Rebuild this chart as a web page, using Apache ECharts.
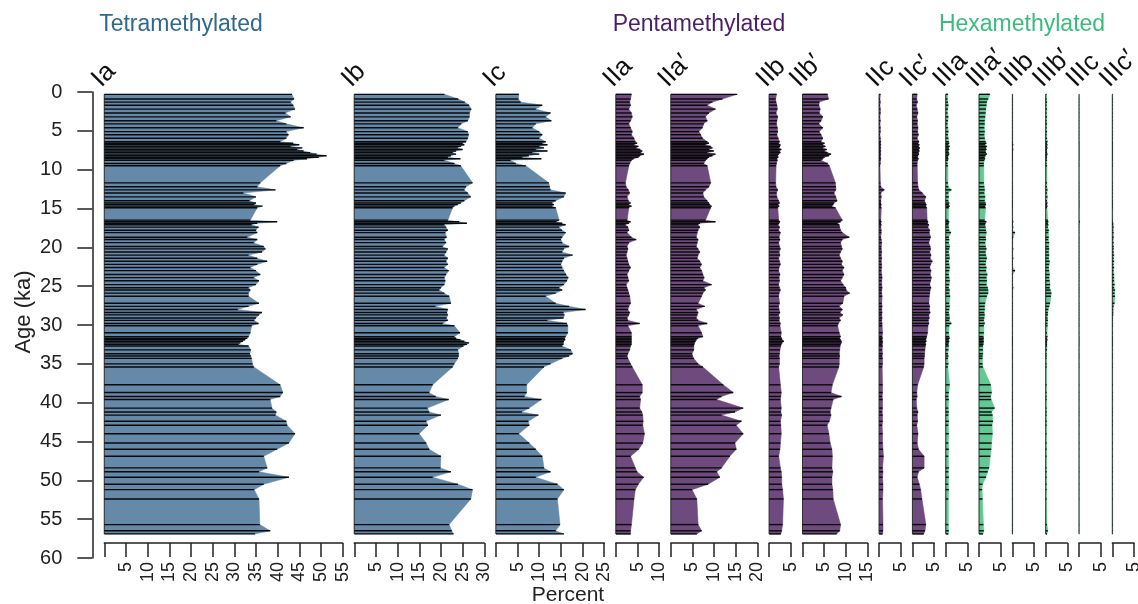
<!DOCTYPE html>
<html><head><meta charset="utf-8">
<script src="https://cdn.jsdelivr.net/npm/echarts@6/dist/echarts.min.js"></script>
<style>html,body{margin:0;padding:0;background:#fff}#c{width:1138px;height:604px}</style>
</head><body><div id="c"></div>
<script>
// ---- data (ages in ka, values in percent) ----
const ages = [
0.3,0.9,1.3,1.7,2.2,2.7,3.2,3.7,4.1,4.6,
5.1,5.5,5.95,6.4,6.6,6.8,7.0,7.2,7.4,7.6,
7.8,8.0,8.2,8.4,8.6,8.8,9.2,9.5,11.7,12.2,
12.6,13.0,13.5,14.0,14.3,14.5,14.7,14.9,16.5,16.7,
16.9,17.1,17.4,17.8,18.1,18.7,19.0,19.4,19.9,20.2,
20.6,21.0,21.4,21.8,22.2,22.6,23.0,23.5,23.9,24.3,
24.8,25.2,25.5,25.9,26.3,27.2,27.6,28.0,28.4,28.7,
29.1,29.4,29.8,30.1,31.0,31.5,31.7,31.9,32.1,32.3,
32.5,32.7,33.2,33.7,34.0,34.3,35.0,35.4,37.7,38.7,
39.2,39.6,40.7,41.2,41.6,42.4,42.9,44.0,45.2,46.0,
46.9,48.4,48.9,49.6,50.5,51.2,52.4,55.7,56.5,56.9];

const Ia = [
43.3,43.8,43.0,43.6,44.0,41.8,43.0,39.7,42.0,46.0,
42.0,42.5,42.0,40.6,43.6,45.0,43.0,45.7,44.5,46.0,
47.5,49.0,51.3,49.5,46.8,43.7,42.0,40.6,36.0,35.3,
39.5,32.1,35.0,33.5,35.0,34.6,36.5,35.3,33.7,39.9,
35.3,34.0,35.6,35.0,35.3,33.0,35.3,34.5,36.8,37.2,
36.4,33.3,35.3,37.6,35.3,33.7,35.0,36.0,34.5,35.7,
35.0,33.3,33.7,33.3,33.3,35.7,33.3,30.8,36.4,35.7,
35.0,34.6,35.6,34.0,33.7,33.3,33.0,32.5,32.0,31.4,
31.0,33.3,33.8,33.6,33.8,34.0,34.2,34.5,40.6,41.2,
40.6,38.3,38.7,39.7,39.5,42.0,42.2,44.0,42.6,39.9,
36.8,37.6,35.7,42.6,36.8,34.6,35.7,35.9,38.3,34.8];

const Ib = [
20.8,24.0,25.5,26.5,27.0,26.6,26.6,26.2,24.7,23.9,
26.2,26.4,26.2,25.8,25.0,25.4,24.6,23.9,25.0,23.5,
22.7,23.5,22.3,21.6,24.5,20.8,23.1,24.6,27.3,25.8,
25.4,26.2,26.9,25.4,24.6,23.9,23.1,22.7,21.6,24.2,
26.0,20.8,21.2,21.6,21.0,21.3,20.8,21.2,20.4,21.6,
21.2,20.8,21.6,21.2,21.6,20.8,21.8,21.2,20.8,21.0,
20.8,20.0,19.6,20.8,21.9,22.3,18.7,21.6,21.4,21.6,
21.3,21.6,20.4,23.1,24.4,23.1,23.5,24.5,25.4,26.5,
26.0,25.2,23.9,24.1,24.1,23.9,23.1,22.7,18.1,17.3,
18.8,21.8,16.9,17.3,20.0,16.6,17.0,15.0,16.6,17.3,
20.0,19.9,22.3,18.1,23.9,27.3,26.9,21.9,22.5,22.9];

const Ic = [
5.3,5.2,5.7,10.7,9.2,12.6,11.5,12.8,9.2,8.4,
10.0,10.7,10.0,11.5,10.7,11.9,10.0,11.1,9.2,11.9,
8.4,10.0,7.6,6.1,10.5,3.4,4.6,6.9,12.2,12.4,
12.6,16.1,15.7,13.8,13.0,13.4,13.0,13.8,14.6,14.0,
15.3,16.1,14.6,15.3,16.1,15.3,15.0,15.3,16.9,15.7,
15.3,17.7,15.7,15.3,15.0,15.3,15.7,16.2,16.7,16.4,
15.7,14.6,15.3,13.8,11.5,13.8,16.9,20.7,15.6,15.8,
15.6,11.9,16.4,16.6,16.6,16.1,15.9,16.0,15.7,15.6,
15.6,15.3,17.3,17.7,16.9,15.3,12.6,11.1,7.1,7.1,
6.6,10.5,7.7,6.0,9.8,7.5,7.7,5.3,7.7,9.2,
10.7,11.1,12.6,9.2,14.2,15.7,14.2,14.8,13.8,15.7];

const IIa = [
3.6,3.4,3.2,3.4,3.0,3.6,3.8,3.4,3.0,3.4,
3.8,3.6,4.2,4.5,4.9,4.2,5.2,4.7,5.6,6.1,
5.7,6.5,5.6,5.2,4.1,3.6,3.2,3.0,2.2,2.4,
2.9,3.2,2.6,2.9,3.4,3.0,3.6,3.0,2.6,3.4,
3.0,2.2,2.8,3.0,2.6,3.6,4.7,3.0,2.6,2.8,
2.6,2.4,2.6,2.8,3.0,3.4,3.0,2.6,2.8,3.0,
2.4,2.6,2.8,3.0,3.2,3.4,3.0,2.8,3.2,3.0,
2.6,2.8,5.5,2.8,3.6,3.6,3.6,3.6,3.6,3.6,
3.6,3.4,3.2,2.8,2.6,2.8,3.4,3.8,6.1,6.1,
5.5,5.7,5.5,6.0,6.2,6.3,6.2,6.6,6.2,5.3,
3.4,4.5,4.9,6.4,5.2,4.5,4.2,3.6,3.4,3.4];

const IIa_p = [
15.3,11.9,9.6,8.4,10.3,8.8,8.0,8.4,7.6,7.3,
6.5,6.9,7.3,8.4,8.8,8.0,9.2,9.6,8.8,9.9,
8.4,10.3,9.6,8.8,8.4,8.0,7.6,8.4,9.2,8.8,
8.0,7.4,7.6,8.4,8.8,9.0,9.4,9.2,8.0,10.3,
6.7,6.3,6.7,6.3,6.1,5.9,6.3,6.1,5.9,6.3,
6.7,6.3,6.1,6.7,7.1,6.7,7.1,7.4,7.7,7.4,
9.4,7.7,8.0,7.4,7.1,6.3,7.8,5.9,6.3,6.1,
5.9,6.3,8.4,6.3,7.1,7.4,6.3,5.9,5.7,5.5,
5.4,5.3,5.3,4.9,5.0,5.3,6.3,7.4,12.1,14.4,
11.7,10.6,16.7,14.8,11.7,16.3,15.1,16.7,14.8,15.1,
13.6,11.7,10.6,11.3,8.6,4.9,6.0,6.3,7.1,6.0];

const IIb = [
1.7,1.5,1.6,1.8,1.9,1.6,2.0,1.8,1.7,1.9,
2.0,1.8,2.1,2.4,2.2,2.6,2.5,2.3,2.8,2.4,
2.6,2.2,2.0,2.1,1.8,1.9,1.7,1.6,1.5,1.6,
2.0,1.7,1.8,2.2,2.4,2.1,2.3,2.0,2.2,2.5,
2.3,2.1,2.4,2.2,2.6,2.3,2.5,2.2,2.4,2.6,
2.3,2.5,2.2,2.4,2.6,2.3,2.2,2.5,2.3,2.4,
2.2,2.4,2.6,2.3,2.2,2.4,2.2,2.3,2.5,2.2,
2.4,2.3,2.6,2.5,2.8,2.7,2.9,3.0,3.4,3.0,
2.8,2.7,2.5,2.4,2.3,2.4,2.4,2.2,2.6,2.8,
2.7,2.6,2.8,2.7,2.9,2.6,2.7,2.8,2.6,2.5,
2.2,2.6,2.8,2.9,2.9,3.1,3.3,3.1,2.9,2.7];

const IIb_p = [
5.8,6.0,3.9,3.8,4.1,3.9,4.7,4.3,3.8,4.7,
3.9,4.3,4.7,4.3,5.1,4.7,5.3,4.7,5.6,5.1,
5.8,6.6,6.1,5.1,4.7,4.3,5.8,6.2,7.6,7.7,
7.7,7.3,7.7,8.0,7.3,7.1,6.8,7.6,9.2,8.8,
8.1,8.5,8.6,8.8,9.2,10.8,9.2,8.8,9.0,9.2,
8.8,8.5,8.8,9.2,9.0,9.6,9.2,9.6,9.2,8.8,
9.4,10.0,10.1,10.9,9.6,9.3,8.5,9.2,8.7,9.3,
8.5,8.8,8.3,8.1,8.5,8.8,8.6,8.8,9.0,9.0,
8.8,8.7,8.6,8.5,8.6,8.5,8.5,8.4,6.9,6.6,
9.0,7.1,6.6,6.4,6.6,6.2,5.7,6.1,6.4,6.8,
6.9,6.8,7.0,6.8,6.8,7.0,7.1,8.8,8.6,7.9];

const IIc = [
0.3,0.2,0.3,0.2,0.3,0.3,0.2,0.3,0.2,0.3,
0.3,0.2,0.3,0.4,0.3,0.4,0.3,0.4,0.3,0.4,
0.3,0.4,0.3,0.3,0.4,0.3,0.3,0.2,0.3,0.4,
1.2,0.4,0.5,0.4,0.4,0.5,0.4,0.5,0.4,0.5,
0.4,0.5,0.4,0.5,0.5,0.4,0.5,0.6,0.5,0.5,
0.6,0.5,0.6,0.5,0.6,0.6,0.5,0.6,0.7,0.6,
0.6,0.7,0.6,0.6,0.7,0.6,0.7,0.6,0.7,0.6,
0.7,0.6,0.7,0.7,0.8,0.7,0.8,0.7,0.8,0.8,
0.7,0.8,0.7,0.8,0.7,0.8,0.8,0.7,0.8,0.8,
0.7,0.8,0.8,0.7,0.8,0.8,0.7,0.8,0.8,0.9,
1.0,0.8,0.9,0.8,0.9,0.9,0.8,0.9,0.9,0.8];

const IIc_p = [
1.1,1.0,1.2,0.9,1.1,1.3,1.0,1.2,1.1,1.3,
1.2,1.4,1.1,1.5,1.3,1.6,1.4,1.7,1.5,1.6,
1.4,1.5,1.3,1.2,1.4,1.2,1.1,1.1,1.2,1.3,
1.5,2.3,3.1,2.8,3.0,3.2,3.1,3.3,3.4,3.6,
3.5,3.8,3.6,4.0,3.9,4.2,4.0,3.8,4.1,4.2,
4.0,4.3,4.1,4.6,4.2,4.0,4.3,4.1,4.4,4.2,
4.0,4.3,4.1,4.0,3.9,3.8,4.0,3.9,4.1,3.8,
3.9,3.7,3.8,3.6,3.5,3.3,3.2,3.1,3.2,3.0,
3.1,3.0,2.9,2.8,2.8,2.7,2.7,2.6,1.2,1.0,
1.1,0.9,1.0,1.3,1.1,1.2,1.0,1.3,1.1,1.4,
2.7,2.7,1.4,1.1,1.6,1.9,2.2,3.1,2.9,2.6];

const IIIa = [
0.5,0.4,0.5,0.6,0.5,0.4,0.6,0.5,0.4,0.5,
0.6,0.5,0.6,0.7,0.8,0.6,0.9,0.7,0.8,0.6,
0.7,0.8,0.6,0.5,0.6,0.5,0.4,0.5,0.5,0.6,
1.3,0.6,0.7,0.6,0.8,0.7,0.9,0.7,0.6,0.8,
0.7,0.6,0.7,0.8,1.2,0.7,0.8,0.7,0.9,0.8,
0.7,0.8,0.9,0.7,0.8,0.9,0.8,0.7,0.8,0.9,
0.8,0.7,0.9,0.8,1.0,0.8,0.9,0.8,0.7,0.8,
0.9,0.8,1.3,0.8,0.7,0.8,0.9,0.7,0.8,0.7,
0.6,0.7,0.6,0.5,0.6,0.5,0.6,0.5,0.9,0.7,
0.6,0.7,0.6,0.7,0.6,0.7,0.6,0.7,0.6,0.7,
0.6,0.7,0.6,0.7,0.6,0.7,0.6,0.6,0.7,0.6];

const IIIa_p = [
2.5,2.1,1.8,1.7,1.6,1.5,1.4,1.3,1.3,1.2,
1.3,1.2,1.3,1.5,1.7,1.4,1.8,1.6,1.7,1.5,
1.6,1.8,1.5,1.3,1.4,1.2,1.1,1.1,1.1,1.2,
1.3,1.2,1.4,1.3,1.5,1.6,1.4,1.5,1.3,1.7,
1.5,1.4,1.5,1.6,1.7,1.5,1.6,1.4,1.5,1.7,
1.5,1.6,1.8,1.6,1.5,1.7,1.6,1.9,1.7,1.8,
1.7,2.0,2.1,2.1,1.8,1.4,1.3,1.3,1.2,1.3,
1.2,1.1,1.3,1.1,1.1,1.0,1.1,1.0,1.1,1.0,
1.0,0.9,0.9,0.9,0.8,0.8,0.8,0.9,2.7,2.9,
2.7,2.8,3.6,2.9,3.1,3.2,3.0,3.1,2.9,2.8,
2.6,2.3,2.0,1.6,0.8,0.7,0.8,1.0,1.1,0.9];

const IIIb = [
0.1,0.1,0.1,0.1,0.1,0.1,0.1,0.1,0.1,0.1,
0.1,0.1,0.1,0.1,0.1,0.2,0.1,0.1,0.2,0.1,
0.1,0.1,0.1,0.1,0.1,0.1,0.1,0.1,0.1,0.1,
0.1,0.1,0.1,0.1,0.1,0.1,0.1,0.1,0.1,0.2,
0.1,0.1,0.2,0.1,0.6,0.2,0.1,0.1,0.1,0.2,
0.1,0.1,0.2,0.1,0.1,0.1,0.6,0.1,0.1,0.1,
0.1,0.2,0.1,0.1,0.1,0.1,0.1,0.1,0.1,0.1,
0.1,0.1,0.1,0.1,0.1,0.1,0.1,0.1,0.1,0.1,
0.1,0.1,0.1,0.1,0.1,0.1,0.1,0.1,0.1,0.1,
0.1,0.1,0.1,0.1,0.1,0.1,0.1,0.1,0.1,0.1,
0.1,0.1,0.1,0.1,0.1,0.1,0.1,0.1,0.1,0.1];

const IIIb_p = [
0.2,0.2,0.3,0.2,0.3,0.2,0.3,0.2,0.3,0.2,
0.3,0.2,0.3,0.4,0.3,0.4,0.3,0.4,0.3,0.3,
0.3,0.4,0.3,0.3,0.2,0.3,0.2,0.3,0.3,0.3,
0.4,0.3,0.4,0.3,0.4,0.3,0.4,0.3,0.5,0.6,
0.5,0.6,0.5,0.7,0.6,0.7,0.6,0.8,0.7,0.8,
0.7,0.8,0.7,0.9,0.8,0.7,0.8,0.9,0.8,0.9,
1.0,0.9,1.1,1.3,1.2,1.0,0.8,0.6,0.5,0.5,
0.4,0.5,0.4,0.4,0.3,0.4,0.3,0.4,0.3,0.3,
0.3,0.3,0.3,0.2,0.2,0.2,0.2,0.2,0.2,0.2,
0.2,0.2,0.2,0.2,0.2,0.2,0.2,0.2,0.2,0.2,
0.2,0.2,0.2,0.2,0.2,0.2,0.2,0.3,0.5,0.3];

const IIIc = [
0.05,0.05,0.05,0.05,0.05,0.05,0.05,0.05,0.05,0.05,
0.05,0.05,0.05,0.05,0.05,0.05,0.05,0.05,0.05,0.05,
0.05,0.05,0.05,0.05,0.05,0.05,0.05,0.05,0.05,0.05,
0.05,0.05,0.05,0.05,0.05,0.05,0.05,0.05,0.05,0.2,
0.05,0.05,0.05,0.05,0.05,0.05,0.05,0.05,0.05,0.05,
0.05,0.05,0.05,0.05,0.05,0.05,0.05,0.05,0.05,0.05,
0.05,0.05,0.05,0.05,0.05,0.05,0.05,0.05,0.05,0.05,
0.05,0.05,0.05,0.05,0.05,0.05,0.05,0.05,0.05,0.05,
0.05,0.05,0.05,0.05,0.05,0.05,0.05,0.05,0.05,0.05,
0.05,0.05,0.05,0.05,0.05,0.05,0.05,0.05,0.05,0.05,
0.05,0.05,0.05,0.05,0.05,0.05,0.05,0.05,0.05,0.05];

const IIIc_p = [
0.1,0.1,0.1,0.1,0.1,0.1,0.1,0.1,0.1,0.1,
0.1,0.1,0.1,0.1,0.1,0.1,0.1,0.1,0.1,0.1,
0.1,0.1,0.1,0.1,0.1,0.1,0.1,0.1,0.1,0.1,
0.1,0.1,0.1,0.1,0.1,0.1,0.1,0.1,0.1,0.1,
0.2,0.2,0.3,0.2,0.3,0.3,0.2,0.3,0.3,0.3,
0.3,0.4,0.3,0.4,0.3,0.4,0.3,0.4,0.4,0.4,
0.5,0.4,0.6,0.5,0.6,0.5,0.3,0.2,0.2,0.2,
0.1,0.1,0.1,0.1,0.1,0.1,0.1,0.1,0.1,0.1,
0.1,0.1,0.1,0.1,0.1,0.1,0.1,0.1,0.1,0.1,
0.1,0.1,0.1,0.1,0.1,0.1,0.1,0.1,0.1,0.1,
0.1,0.1,0.1,0.1,0.1,0.1,0.1,0.1,0.1,0.1];

const panelNames = ['Ia','Ib','Ic','IIa','IIa\u2032','IIb','IIb\u2032','IIc','IIc\u2032','IIIa','IIIa\u2032','IIIb','IIIb\u2032','IIIc','IIIc\u2032'];
const panelValues = [Ia,Ib,Ic,IIa,IIa_p,IIb,IIb_p,IIc,IIc_p,IIIa,IIIa_p,IIIb,IIIb_p,IIIc,IIIc_p];
const panelMax = [55,30,25,10,20,5,15,5,5,5,5,5,5,5,5];
const panelGroup = [0,0,0,1,1,1,1,1,1,2,2,2,2,2,2];
const groupTitles = ['Tetramethylated','Pentamethylated','Hexamethylated'];
const ageMin = 0, ageMax = 60, ageStep = 5, pctStep = 5;

// ---- layout / style ----
const FONT = "'Liberation Sans', Arial, sans-serif";
const fills = ['#6589A9', '#6E4A7E', '#63C994'];
const titleColors = ['#31688E', '#4A1F66', '#3CBB7E'];
const titleX = [181, 699, 1022];
const UNIT = 4.333, GAP = 11.65, LEFT0 = 104.3, TOP = 92, H = 466;
const lefts = [];
let cx = LEFT0;
panelMax.forEach(m => { lefts.push(cx); cx += m * UNIT + GAP; });

const grids = [], xAxes = [], yAxes = [], series = [], graphics = [];
panelMax.forEach((m, i) => {
  grids.push({left: lefts[i], top: TOP, width: m * UNIT, height: H, outerBoundsMode: 'none', containLabel: false});
  xAxes.push({
    gridIndex: i, type: 'value', position: 'bottom', min: 0, max: m, interval: pctStep, offset: -15,
    axisLine: {show: true, onZero: false, lineStyle: {color: '#222', width: 1.5}},
    axisTick: {show: true, inside: false, length: 14, lineStyle: {color: '#222', width: 1.5}},
    axisLabel: {show: true, rotate: 90, margin: 19, fontSize: 18, color: '#222', fontFamily: FONT,
      formatter: v => v === 0 ? '' : String(v)},
    splitLine: {show: false}
  });
  const yA = {
    gridIndex: i, type: 'value', inverse: true, min: ageMin, max: ageMax, interval: ageStep,
    splitLine: {show: false}
  };
  if (i === 0) {
    Object.assign(yA, {
      show: true, offset: 12, position: 'left',
      axisLine: {show: true, onZero: false, lineStyle: {color: '#222', width: 1.5}},
      axisTick: {show: true, inside: false, length: 15, lineStyle: {color: '#222', width: 1.5}},
      axisLabel: {show: true, margin: 30, fontSize: 20, color: '#222', fontFamily: FONT}
    });
  } else {
    yA.show = false;
  }
  yAxes.push(yA);

  const vals = panelValues[i];
  const rows = ages.map((a, k) => [vals[k], a]);
  const fill = fills[panelGroup[i]];
  series.push({
    type: 'custom', xAxisIndex: i, yAxisIndex: i, z: 1, clip: false, silent: true,
    data: [rows[0]],
    renderItem: function (params, api) {
      const pts = [api.coord([0, ages[0]])];
      for (let k = 0; k < ages.length; k++) pts.push(api.coord([vals[k], ages[k]]));
      pts.push(api.coord([0, ages[ages.length - 1]]));
      const top = api.coord([0, ages[0]]), bot = api.coord([0, ages[ages.length - 1]]);
      return {type: 'group', children: [
        {type: 'polygon', shape: {points: pts}, style: {fill: fill, stroke: fill, lineWidth: 0.5}},
        {type: 'line', shape: {x1: top[0], y1: top[1], x2: bot[0], y2: bot[1]}, style: {stroke: '#333', lineWidth: 1}}
      ]};
    }
  });
  series.push({
    type: 'custom', xAxisIndex: i, yAxisIndex: i, z: 2, clip: false, silent: true,
    data: rows,
    renderItem: function (params, api) {
      const p0 = api.coord([0, api.value(1)]);
      const p1 = api.coord([api.value(0), api.value(1)]);
      return {type: 'line', shape: {x1: p0[0], y1: p0[1], x2: p1[0], y2: p1[1]},
        style: {stroke: '#0a0a0a', lineWidth: 1.4}};
    }
  });
  graphics.push({
    type: 'text', x: lefts[i] + 1, y: 92, rotation: Math.PI / 4, silent: true,
    style: {text: panelNames[i], fontSize: 26, fontFamily: FONT, fill: '#111', align: 'left', verticalAlign: 'bottom'}
  });
});

groupTitles.forEach((t, g) => {
  graphics.push({type: 'text', x: titleX[g], y: 25, silent: true,
    style: {text: t, fontSize: 23, fontFamily: FONT, fill: titleColors[g], align: 'center', verticalAlign: 'middle'}});
});
graphics.push({type: 'text', x: 568, y: 595, silent: true,
  style: {text: 'Percent', fontSize: 21, fontFamily: FONT, fill: '#222', align: 'center', verticalAlign: 'middle'}});
graphics.push({type: 'text', x: 24, y: 312, rotation: Math.PI / 2, silent: true,
  style: {text: 'Age (ka)', fontSize: 22, fontFamily: FONT, fill: '#222', align: 'center', verticalAlign: 'middle'}});

const chart = echarts.init(document.getElementById('c'));
chart.setOption({
  animation: false,
  backgroundColor: '#ffffff',
  grid: grids, xAxis: xAxes, yAxis: yAxes, series: series, graphic: graphics
});
</script></body></html>
